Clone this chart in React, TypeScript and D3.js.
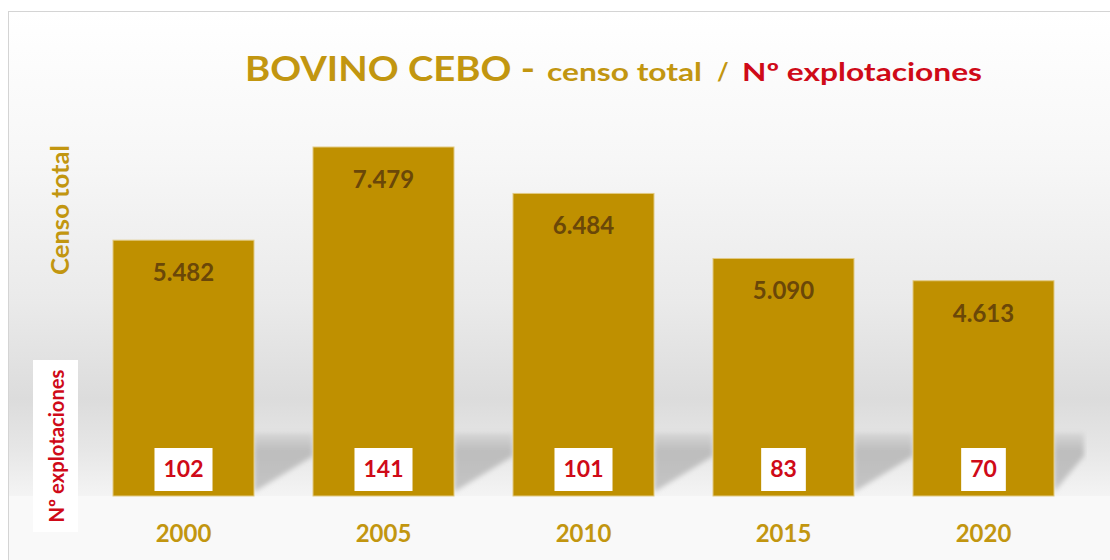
import React from 'react';
import * as d3 from 'd3';

const years = ['2000', '2005', '2010', '2015', '2020'];
const censoTotal = [5482, 7479, 6484, 5090, 4613];
const numExplotaciones = [102, 141, 101, 83, 70];

const GOLD = '#bf9000';
const GOLD_TEXT = '#c29610';
const RED = '#cf0a18';
const BROWN = '#6a4708';
const FONT = 'Lato, "Open Sans", sans-serif';

const W = 1110;
const H = 560;
const baseY = 496;

const es = d3.formatLocale({ decimal: ',', thousands: '.', grouping: [3], currency: ['', ' €'] });
const fmt = es.format(',');

export default function App() {
  // scales
  const x = d3.scaleBand<string>()
    .domain(years)
    .range([83.5, 1083.5])
    .paddingInner(0.295)
    .paddingOuter(0.1475);
  const y = d3.scaleLinear().domain([0, 8000]).range([baseY, 122.7]);
  const bw = x.bandwidth();

  return (
    <svg width={W} height={H} style={{ position: 'absolute', left: 0, top: 0, display: 'block' }}>
      <defs>
        <linearGradient id="wall" x1="0" y1="0" x2="0" y2="1">
          <stop offset="0" stopColor="#ffffff" />
          <stop offset="0.3" stopColor="#f7f7f7" />
          <stop offset="0.6" stopColor="#eaeaea" />
          <stop offset="0.8" stopColor="#dcdcdc" />
          <stop offset="0.9" stopColor="#e6e6e6" />
          <stop offset="1" stopColor="#f4f4f4" />
        </linearGradient>
        <linearGradient id="shadow" x1="0" y1="0" x2="0" y2="1">
          <stop offset="0" stopColor="#d6d6d6" />
          <stop offset="0.3" stopColor="#bdbdbd" />
          <stop offset="1" stopColor="#c4c4c4" />
        </linearGradient>
        <filter id="blur" x="-10%" y="-20%" width="120%" height="140%">
          <feGaussianBlur stdDeviation="2.5" />
        </filter>
      </defs>

      {/* frame + background */}
      <rect x={0} y={0} width={W} height={H} fill="#ffffff" />
      <rect x={8.5} y={11.5} width={W} height={H} fill="#f9f9f9" stroke="#d4d4d4" />
      <rect x={9} y={12} width={W - 9} height={baseY - 12} fill="url(#wall)" />

      {/* floor shadows behind bars */}
      {years.map((yr, i) => {
        const xr = (x(yr) as number) + bw;
        const xn = i < years.length - 1 ? (x(years[i + 1]) as number) : 1084;
        const pts = [[xr, 433], [xn, 433], [xn, 456], [xr, 492]].map(p => p.join(',')).join(' ');
        return <polygon key={'s' + yr} points={pts} fill="url(#shadow)" filter="url(#blur)" />;
      })}

      {/* bars */}
      {years.map((yr, i) => (
        <rect
          key={'b' + yr}
          x={x(yr)}
          y={y(censoTotal[i])}
          width={bw}
          height={baseY - y(censoTotal[i])}
          fill={GOLD}
          stroke="#e2ca82"
          strokeWidth={1}
        />
      ))}

      {/* censo labels */}
      {years.map((yr, i) => (
        <text
          key={'v' + yr}
          x={(x(yr) as number) + bw / 2}
          y={y(censoTotal[i]) + 41}
          textAnchor="middle"
          fontFamily={FONT}
          fontWeight="bold"
          fontSize={24}
          fill={BROWN}
        >
          {fmt(censoTotal[i])}
        </text>
      ))}

      {/* explotaciones labels in white boxes */}
      {years.map((yr, i) => {
        const label = String(numExplotaciones[i]);
        const boxW = label.length * 0.58 * 23 + 18;
        const cx = (x(yr) as number) + bw / 2;
        return (
          <g key={'e' + yr}>
            <rect x={cx - boxW / 2} y={448} width={boxW} height={43} fill="#ffffff" />
            <text
              x={cx}
              y={477}
              textAnchor="middle"
              fontFamily={FONT}
              fontWeight="bold"
              fontSize={23}
              fill={RED}
            >
              {label}
            </text>
          </g>
        );
      })}

      {/* x axis labels */}
      {years.map(yr => (
        <text
          key={'x' + yr}
          x={(x(yr) as number) + bw / 2}
          y={542}
          textAnchor="middle"
          fontFamily={FONT}
          fontWeight="bold"
          fontSize={24}
          fill={GOLD_TEXT}
        >
          {yr}
        </text>
      ))}

      {/* axis titles */}
      <text
        transform="translate(69,210) rotate(-90)"
        textAnchor="middle"
        fontFamily={FONT}
        fontWeight="bold"
        fontSize={24}
        fill={GOLD_TEXT}
        textLength={130}
        lengthAdjust="spacingAndGlyphs"
      >
        Censo total
      </text>
      <rect x={33} y={360} width={45} height={172} fill="#ffffff" />
      <text
        transform="translate(64,446) rotate(-90)"
        textAnchor="middle"
        fontFamily={FONT}
        fontWeight="bold"
        fontSize={21}
        fill={RED}
        textLength={153}
        lengthAdjust="spacingAndGlyphs"
      >
        Nº explotaciones
      </text>

      {/* title */}
      <g fontFamily={FONT} fontWeight="bold">
        <text x={245} y={81} fontSize={34} fill={GOLD_TEXT} textLength={290} lengthAdjust="spacingAndGlyphs">
          BOVINO CEBO -
        </text>
        <text x={547} y={81} fontSize={24} fill={GOLD_TEXT} textLength={155} lengthAdjust="spacingAndGlyphs">
          censo total
        </text>
        <text x={717} y={81} fontSize={25} fill={GOLD_TEXT}>
          /
        </text>
        <text x={742} y={81} fontSize={25} fill={RED} textLength={240} lengthAdjust="spacingAndGlyphs">
          Nº explotaciones
        </text>
      </g>
    </svg>
  );
}
